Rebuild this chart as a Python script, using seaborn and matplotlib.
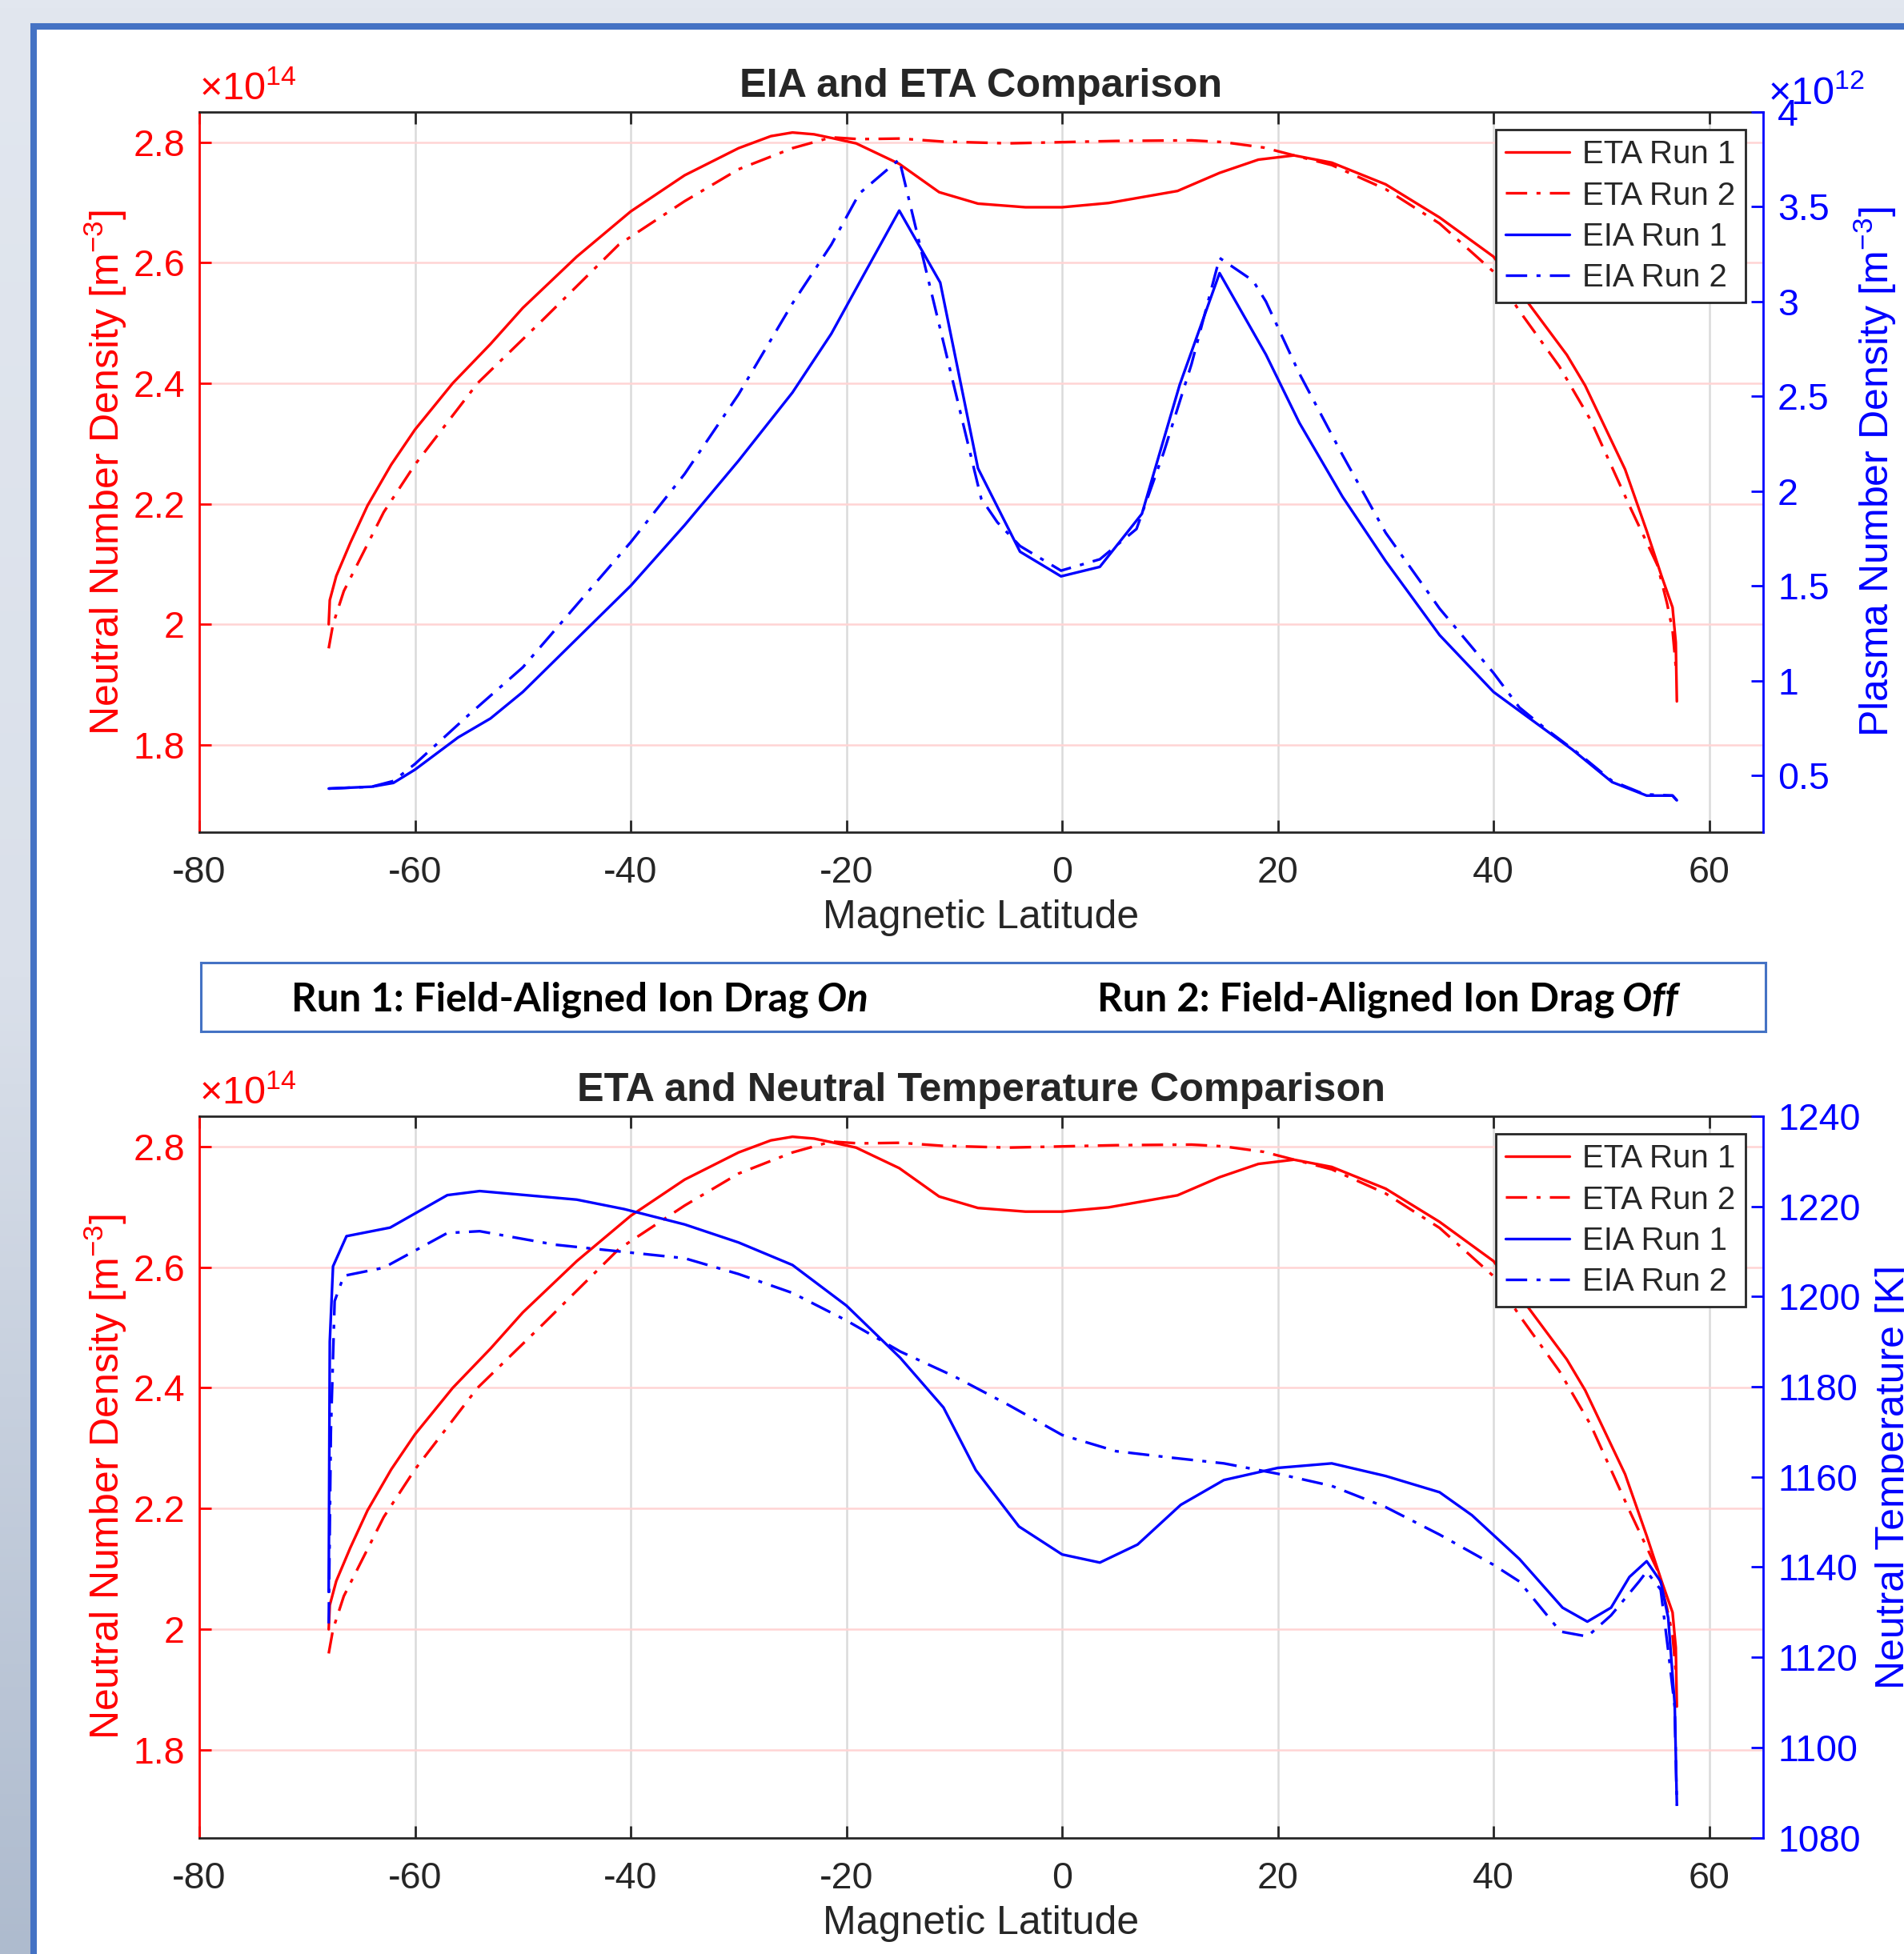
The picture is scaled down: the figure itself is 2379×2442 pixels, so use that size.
import numpy as np
import matplotlib
matplotlib.use("Agg")
import matplotlib.pyplot as plt
import seaborn as sns
from matplotlib.patches import Rectangle
from matplotlib.ticker import FuncFormatter
from matplotlib.colors import LinearSegmentedColormap

sns.set_style("white")
plt.rcParams['font.family'] = ['Liberation Sans', 'DejaVu Sans']
plt.rcParams['mathtext.fontset'] = 'custom'
plt.rcParams['mathtext.rm'] = 'Liberation Sans'
plt.rcParams['mathtext.it'] = 'Liberation Sans:italic'
plt.rcParams['mathtext.bf'] = 'Liberation Sans:bold'

# ---- data ----
# ETA: neutral number density, units of 1e14 m^-3
lat_eta1 = [-68.0, -67.9, -67.3, -66.0, -64.4, -62.2, -60.0, -56.5, -53.0, -50.0, -45.0, -40.0,
            -35.0, -30.0, -27.0, -25.0, -23.0, -21.4, -19.1, -15.1, -11.4, -7.8, -3.4, 0.0, 4.3,
            10.7, 14.6, 18.2, 21.5, 25.0, 30.0, 35.0, 40.0, 43.1, 46.8, 48.5, 52.2, 54.2, 55.6,
            56.6, 56.9, 57.0]
eta_run1 = [2.00, 2.04, 2.08, 2.135, 2.197, 2.265, 2.323, 2.40, 2.465, 2.525, 2.61, 2.685,
            2.745, 2.79, 2.81, 2.816, 2.813, 2.807, 2.798, 2.764, 2.717, 2.698, 2.692, 2.692, 2.699,
            2.719, 2.749, 2.771, 2.778, 2.766, 2.73, 2.675, 2.61, 2.536, 2.447, 2.396, 2.257, 2.155, 2.079,
            2.028, 1.97, 1.872]

lat_eta2 = [-68.0, -67.6, -66.6, -62.9, -60.0, -54.2, -48.1, -41.1, -35.0, -30.0, -25.0, -21.4,
            -18.8, -15.0, -11.1, -5.0, 0.0, 5.0, 12.0, 15.0, 18.7, 20.0, 25.0, 30.0, 35.0, 40.0,
            42.4, 46.1, 49.0, 52.7, 55.2, 56.1, 56.6, 56.9]
eta_run2 = [1.96, 2.00, 2.055, 2.186, 2.265, 2.40, 2.506, 2.63, 2.702, 2.755, 2.79, 2.808,
            2.805, 2.806, 2.801, 2.798, 2.80, 2.802, 2.803, 2.80, 2.791, 2.785, 2.762, 2.722, 2.665, 2.585,
            2.52, 2.428, 2.339, 2.193, 2.098, 2.034, 1.99, 1.93]

# EIA: plasma number density, units of 1e12 m^-3
lat_eia1 = [-68.0, -64.0, -62.0, -60.0, -56.0, -53.0, -50.0, -45.0, -40.0, -35.0, -30.0, -25.0,
            -21.4, -18.5, -15.1, -11.3, -7.8, -3.9, -0.1, 3.5, 7.4, 10.9, 14.6, 18.9, 22.0, 26.0,
            30.0, 35.0, 40.0, 42.4, 47.3, 51.0, 54.2, 56.6, 57.0]
eia_run1 = [0.43, 0.44, 0.46, 0.53, 0.70, 0.80, 0.94, 1.22, 1.50, 1.82, 2.16, 2.52,
            2.83, 3.13, 3.48, 3.10, 2.12, 1.68, 1.55, 1.60, 1.88, 2.56, 3.15, 2.72, 2.36, 1.97,
            1.63, 1.24, 0.94, 0.84, 0.636, 0.464, 0.393, 0.393, 0.368]

lat_eia2 = [-68.0, -64.0, -62.0, -60.0, -55.0, -50.0, -45.0, -40.0, -35.0, -30.0, -25.0, -21.4,
            -18.8, -15.1, -7.5, -6.0, -3.9, -0.1, 3.5, 6.9, 9.4, 12.0, 14.6, 17.7, 18.9, 22.0,
            26.0, 30.0, 35.0, 40.0, 42.4, 44.8, 48.0, 51.0, 54.0, 56.6, 57.0]
eia_run2 = [0.43, 0.44, 0.47, 0.56, 0.82, 1.07, 1.40, 1.73, 2.09, 2.51, 2.99, 3.30,
            3.57, 3.75, 1.96, 1.835, 1.71, 1.58, 1.64, 1.80, 2.20, 2.67, 3.23, 3.11, 3.00, 2.62,
            2.19, 1.78, 1.38, 1.04, 0.858, 0.747, 0.61, 0.47, 0.40, 0.393, 0.368]

# Neutral temperature [K]
lat_tn1 = [-68.0, -67.9, -67.6, -66.35, -62.3, -57.0, -54.0, -45.0, -40.6, -35.0, -30.0, -25.0,
           -20.0, -15.0, -11.0, -8.0, -4.0, 0.0, 3.5, 7.0, 11.0, 15.0, 20.0, 25.0, 30.0, 35.0,
           38.0, 42.4, 46.4, 48.7, 50.9, 52.6, 54.2, 55.5, 56.2, 56.8, 57.0]
tn_run1 = [1134.5, 1190.0, 1206.7, 1213.4, 1215.3, 1222.5, 1223.4, 1221.5, 1219.4, 1216.0, 1212.0, 1207.0,
           1198.0, 1186.4, 1175.4, 1161.5, 1149.0, 1142.8, 1141.0, 1145.0, 1153.8, 1159.3, 1162.0, 1163.0,
           1160.2, 1156.6, 1151.5, 1141.8, 1131.0, 1127.9, 1131.0, 1137.8, 1141.3, 1136.8, 1128.7, 1109.6, 1087.4]

lat_tn2 = [-68.0, -67.8, -67.45, -66.6, -62.9, -57.0, -54.0, -47.0, -40.6, -35.0, -30.0, -25.0,
           -20.0, -15.0, -10.0, -5.0, 0.0, 5.0, 10.0, 15.0, 20.0, 25.0, 30.0, 35.0, 40.0, 42.4,
           46.2, 48.7, 50.9, 53.5, 54.2, 55.5, 56.2, 56.8, 57.0]
tn_run2 = [1127.5, 1170.0, 1199.0, 1204.6, 1206.4, 1214.1, 1214.5, 1211.5, 1209.9, 1208.5, 1205.0, 1200.8,
           1194.7, 1187.8, 1182.3, 1176.0, 1169.3, 1165.7, 1164.3, 1163.0, 1160.7, 1158.0, 1153.3, 1147.2,
           1140.5, 1136.8, 1125.7, 1124.6, 1129.3, 1136.8, 1139.0, 1135.0, 1121.4, 1109.0, 1087.0]

legend_labels = ["ETA Run 1", "ETA Run 2", "EIA Run 1", "EIA Run 2"]
lat_ticks = [-80, -60, -40, -20, 0, 20, 40, 60]
nn_ticks = [1.8, 2.0, 2.2, 2.4, 2.6, 2.8]
ne_ticks = [0.5, 1.0, 1.5, 2.0, 2.5, 3.0, 3.5, 4.0]
tn_ticks = [1080, 1100, 1120, 1140, 1160, 1180, 1200, 1220, 1240]

# ---- figure ----
W, H = 2379, 2442
fig = plt.figure(figsize=(W / 100, H / 100), dpi=100)

# slide-like background + framed white panel
bg = fig.add_axes([0, 0, 1, 1], zorder=-10)
bg_cmap = LinearSegmentedColormap.from_list("bg", ["#e2e7ef", "#dae0ea", "#aebbce"])
bg.imshow(np.linspace(0, 1, 256).reshape(-1, 1), aspect="auto", cmap=bg_cmap,
          extent=[0, 1, 0, 1], origin="upper")
bg.add_patch(Rectangle((42 / W, -0.1), 1.2, 1.1 - 33 / H, facecolor="white",
                       edgecolor="#4472c4", lw=5.8, transform=bg.transAxes))
bg.set_xlim(0, 1)
bg.set_ylim(0, 1)
bg.set_axis_off()

DASHDOT = (0, (8, 3.5, 1.5, 3.5))
LW = 2.4
fmt = FuncFormatter(lambda v, p: f"{v:g}")
TICK_FS = 33.5
LABEL_FS = 36


def draw_panel(rect, title, right_lat1, right_val1, right_lat2, right_val2,
               right_ylim, right_ticks, right_label, right_exp, right_pad):
    ax = fig.add_axes(rect)
    axr = ax.twinx()

    sns.lineplot(x=lat_eta1, y=eta_run1, ax=ax, color="red", lw=LW, sort=False,
                 estimator=None, label=legend_labels[0])
    sns.lineplot(x=lat_eta2, y=eta_run2, ax=ax, color="red", lw=LW, sort=False,
                 estimator=None, linestyle=DASHDOT, label=legend_labels[1])
    sns.lineplot(x=right_lat1, y=right_val1, ax=axr, color="blue", lw=LW, sort=False,
                 estimator=None, label=legend_labels[2])
    sns.lineplot(x=right_lat2, y=right_val2, ax=axr, color="blue", lw=LW, sort=False,
                 estimator=None, linestyle=DASHDOT, label=legend_labels[3])

    for a in (ax, axr):
        if a.get_legend() is not None:
            a.get_legend().remove()

    ax.set_xlim(-80, 65)
    ax.set_ylim(1.655, 2.85)
    axr.set_ylim(*right_ylim)
    ax.set_xticks(lat_ticks)
    ax.set_yticks(nn_ticks)
    axr.set_yticks(right_ticks)
    ax.xaxis.set_major_formatter(fmt)
    ax.yaxis.set_major_formatter(fmt)
    axr.yaxis.set_major_formatter(fmt)

    ax.set_axisbelow(True)
    ax.grid(axis="x", color="#dadada", lw=1.8)
    ax.grid(axis="y", color="#ffd4d4", lw=1.8)

    ax.tick_params(axis="x", colors="#262626", direction="in", length=11, width=2,
                   labelsize=TICK_FS, pad=21, top=True, bottom=True)
    ax.tick_params(axis="y", colors="red", direction="in", length=11, width=2,
                   labelsize=TICK_FS, pad=13, left=True, right=False)
    axr.tick_params(axis="y", colors="blue", direction="in", length=11, width=2,
                    labelsize=TICK_FS, pad=13, right=True, left=False)

    for side in ("top", "bottom"):
        ax.spines[side].set_color("#262626")
        ax.spines[side].set_linewidth(2)
    ax.spines["left"].set_color("red")
    ax.spines["left"].set_linewidth(2)
    ax.spines["right"].set_visible(False)
    for side in ("left", "top", "bottom"):
        axr.spines[side].set_visible(False)
    axr.spines["right"].set_color("blue")
    axr.spines["right"].set_linewidth(2)

    ax.set_xlabel("Magnetic Latitude", fontsize=LABEL_FS, color="#262626", labelpad=8)
    ax.set_ylabel("Neutral Number Density [m$^{-3}$]", fontsize=LABEL_FS, color="red", labelpad=4)
    axr.set_ylabel(right_label, fontsize=LABEL_FS, color="blue", labelpad=right_pad)
    ax.set_title(title, fontsize=36.3, fontweight="bold", pad=14)

    ax.text(0.0, 1.006, r"$\times\mathregular{10^{14}}$", transform=ax.transAxes,
            color="red", fontsize=35, ha="left", va="bottom")
    if right_exp:
        axr.text(1.003, 1.0, r"$\times\mathregular{10^{12}}$", transform=axr.transAxes,
                 color="blue", fontsize=35, ha="left", va="bottom")

    h1, l1 = ax.get_legend_handles_labels()
    h2, l2 = axr.get_legend_handles_labels()
    leg = axr.legend(h1 + h2, l1 + l2, loc="upper right", fontsize=29, frameon=True,
                     fancybox=False, framealpha=1, edgecolor="#262626",
                     borderaxespad=0.55, handlelength=2.0, labelspacing=0.33,
                     borderpad=0.3, handletextpad=0.4)
    leg.get_frame().set_linewidth(2)
    return ax, axr


draw_panel([249 / W, 1 - 1040 / H, 1954 / W, 900 / H], "EIA and ETA Comparison",
           lat_eia1, eia_run1, lat_eia2, eia_run2, (0.2, 4.0), ne_ticks,
           "Plasma Number Density [m$^{-3}$]", True, 20)
draw_panel([249 / W, 1 - 2296.5 / H, 1954 / W, 901.5 / H],
           "ETA and Neutral Temperature Comparison",
           lat_tn1, tn_run1, lat_tn2, tn_run2, (1080, 1240), tn_ticks,
           "Neutral Temperature [K]", False, 13)

# run description box between the panels
box = fig.add_axes([251 / W, 1 - 1289 / H, 1955 / W, 86 / H])
box.set_xticks([])
box.set_yticks([])
box.set_facecolor("white")
for s in box.spines.values():
    s.set_color("#4472c4")
    s.set_linewidth(2.2)
box_font = dict(fontsize=35.5, fontweight="bold", family=["Lato", "DejaVu Sans"], color="black")
t1 = box.text(0.058, 0.46, "Run 1: Field-Aligned Ion Drag", va="center", ha="left", **box_font)
box.annotate("On", xy=(1, 0), xycoords=t1, xytext=(7, 0), textcoords="offset points",
             va="bottom", ha="left", fontstyle="italic", **box_font)
t2 = box.text(0.573, 0.46, "Run 2: Field-Aligned Ion Drag", va="center", ha="left", **box_font)
box.annotate("Off", xy=(1, 0), xycoords=t2, xytext=(7, 0), textcoords="offset points",
             va="bottom", ha="left", fontstyle="italic", **box_font)

fig.savefig("out.png", dpi=100)
